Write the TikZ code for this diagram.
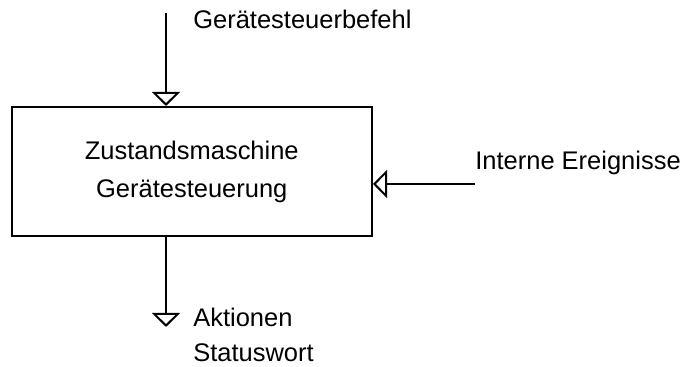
\documentclass[tikz,border=0pt]{standalone}
\usepackage{fontspec}
\setmainfont{Liberation Sans}
\usetikzlibrary{arrows.meta}

\begin{document}
\begin{tikzpicture}
            [myBox/.style={rectangle,
                        draw,
                        line width=0.04cm,
                        align=center,
                        inner sep=0pt,
                        minimum width=7.21cm,
                        minimum height=2.58cm,
                        font=\fontsize{14.5}{21.6}\selectfont},
             myLabel/.style={anchor=base west,
                        inner sep=0pt,
                        font=\fontsize{14.5}{17}\selectfont},
             myArrow/.style={line width=0.04cm,
                        -{Triangle[open,width=0.56cm,length=0.28cm]}}]

            \useasboundingbox (0,0) rectangle (13.68,7.34);

            \node[myBox] (stateMachine) at (3.835, 3.91) {Zustandsmaschine\\Gerätesteuerung};

            \coordinate (commandIn) at (3.32, 7.08);
            \coordinate (eventsIn) at (9.5, 3.66);
            \coordinate (actionsOut) at (3.32, 0.8);

            \node[myLabel] (commandLabel) at (3.86, 6.76) {Gerätesteuerbefehl};
            \node[myLabel] (eventsLabel) at (9.5, 3.94) {Interne Ereignisse};
            \node[myLabel] (actionsLabel) at (3.86, 0.8) {Aktionen};
            \node[myLabel] (statusLabel) at (3.86, 0.1) {Statuswort};

            \draw [myArrow] (commandIn) to (commandIn |- stateMachine.north);
            \draw [myArrow] (eventsIn) to (stateMachine.east |- eventsIn);
            \draw [myArrow] (actionsOut |- stateMachine.south) to (actionsOut);
        \end{tikzpicture}
\end{document}
